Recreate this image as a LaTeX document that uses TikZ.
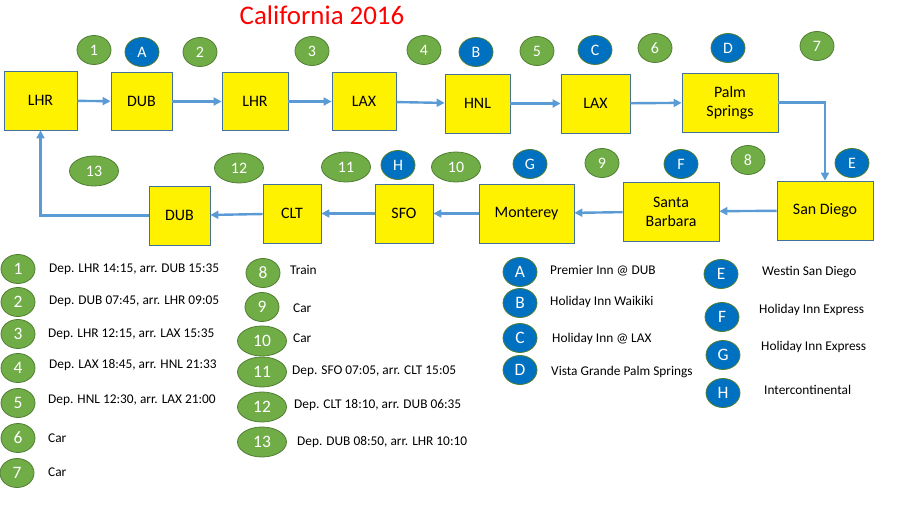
\documentclass[tikz,border=0pt]{standalone}
\usepackage{fontspec}
\setmainfont{Carlito}
\usetikzlibrary{shapes.geometric,arrows.meta}
\definecolor{grnfill}{HTML}{70AD47}
\definecolor{grnline}{HTML}{507E32}
\definecolor{blufill}{HTML}{0070C0}
\definecolor{boxline}{HTML}{41719C}
\definecolor{lnkblue}{HTML}{5B9BD5}
\begin{document}
\begin{tikzpicture}[x=1bp,y=-1bp,
  box/.style={draw=boxline,line width=0.8bp,fill=yellow,inner sep=0pt,minimum height=58bp,align=center,font=\fontsize{16}{19}\selectfont},
  grn/.style={ellipse,draw=grnline,fill=grnfill,line width=0.8bp,text=white,inner sep=0pt,minimum width=34bp,minimum height=29bp,font=\fontsize{16}{18}\selectfont},
  blu/.style={grn,fill=blufill},
  wide/.style={minimum width=49bp,minimum height=30bp},
  big/.style={font=\fontsize{17.5}{20}\selectfont},
  lbl/.style={anchor=west,inner sep=0pt,font=\fontsize{13.4}{15}\selectfont},
  lnk/.style={draw=lnkblue,line width=2.4bp,-{Triangle[length=8bp,width=8bp]}}]
\path[use as bounding box] (0,0) rectangle (901,517);
\node[text=red,font=\fontsize{27}{32}\selectfont] (title) at (322,15) {California 2016};
% route, top row
\node[box,minimum width=73bp,minimum height=59bp] (lhrA) at (40.5,100.5) {LHR};
\node[box,minimum width=61bp] (dubA) at (141.5,101.5) {DUB};
\node[box,minimum width=66bp] (lhrB) at (255,101.5) {LHR};
\node[box,minimum width=64bp] (laxA) at (364,101.5) {LAX};
\node[box,minimum width=65bp,minimum height=59bp] (hnl) at (477.5,103.5) {HNL};
\node[box,minimum width=69bp,minimum height=59bp] (laxB) at (595.5,103.5) {LAX};
\node[box,minimum width=96bp,minimum height=59bp] (psp) at (730,102.5) {Palm\\Springs};
% route, bottom row
\node[box,minimum width=96bp,minimum height=59bp] (san) at (825,210.5) {San Diego};
\node[box,minimum width=96bp,minimum height=59bp] (sba) at (671,211.5) {Santa\\Barbara};
\node[box,minimum width=95bp,minimum height=59bp] (mry) at (526.5,213.5) {Monterey};
\node[box,minimum width=58bp,minimum height=59bp] (sfo) at (404,213.5) {SFO};
\node[box,minimum width=58bp,minimum height=59bp] (clt) at (292,213.5) {CLT};
\node[box,minimum width=61bp,minimum height=59bp] (dubB) at (179.5,215.5) {DUB};
% legs
\draw[lnk] (lhrA) -- (dubA);
\draw[lnk] (dubA) -- (lhrB);
\draw[lnk] (lhrB) -- (laxA);
\draw[lnk] (laxA) -- (hnl);
\draw[lnk] (hnl) -- (laxB);
\draw[lnk] (laxB) -- (psp);
\draw[lnk] (psp.east) -| (san.north);
\draw[lnk] (san) -- (sba);
\draw[lnk] (sba) -- (mry);
\draw[lnk] (mry) -- (sfo);
\draw[lnk] (sfo) -- (clt);
\draw[lnk] (clt) -- (dubB);
\draw[lnk] (dubB.west) -| (lhrA.south);
% markers on the route
\node[grn] (m1) at (94,50) {1};
\node[blu] (mA) at (142,52) {A};
\node[grn] (m2) at (200,52) {2};
\node[grn] (m3) at (312,51) {3};
\node[grn] (m4) at (424,50) {4};
\node[blu] (mB) at (476,52) {B};
\node[grn] (m5) at (537,51) {5};
\node[blu] (mC) at (595,50) {C};
\node[grn] (m6) at (655,48) {6};
\node[blu] (mD) at (728,48) {D};
\node[grn] (m7) at (817,46) {7};
\node[blu] (mE) at (852,163) {E};
\node[grn] (m8) at (748,160) {8};
\node[blu] (mF) at (681,164) {F};
\node[grn] (m9) at (602,163) {9};
\node[blu] (mG) at (530,164) {G};
\node[grn,wide] (m10) at (456,167) {10};
\node[blu] (mH) at (398,165) {H};
\node[grn,wide] (m11) at (346,167) {11};
\node[grn,wide] (m12) at (239,168) {12};
\node[grn,wide] (m13) at (94,171) {13};
% key, legs
\node[grn,big] (k1) at (18,269) {1};\node[lbl] (t1) at (49,269) {Dep. LHR 14:15, arr. DUB 15:35};
\node[grn,big] (k2) at (18,302) {2};\node[lbl] (t2) at (49,301) {Dep. DUB 07:45, arr. LHR 09:05};
\node[grn,big] (k3) at (18,334) {3};\node[lbl] (t3) at (48,334) {Dep. LHR 12:15, arr. LAX 15:35};
\node[grn,big] (k4) at (18,368) {4};\node[lbl] (t4) at (49,365) {Dep. LAX 18:45, arr. HNL 21:33};
\node[grn,big] (k5) at (18,403) {5};\node[lbl] (t5) at (48,400) {Dep. HNL 12:30, arr. LAX 21:00};
\node[grn,big] (k6) at (18,438) {6};\node[lbl] (t6) at (48,438) {Car};
\node[grn,big] (k7) at (17,473) {7};\node[lbl] (t7) at (48,472) {Car};
\node[grn,big] (k8) at (263,273) {8};\node[lbl] (t8) at (290,270) {Train};
\node[grn,big] (k9) at (262,307) {9};\node[lbl] (t9) at (293,308) {Car};
\node[grn,big,wide] (k10) at (262,341) {10};\node[lbl] (t10) at (293,338) {Car};
\node[grn,big,wide] (k11) at (262,372) {11};\node[lbl] (t11) at (292,371) {Dep. SFO 07:05, arr. CLT 15:05};
\node[grn,big,wide] (k12) at (262,407) {12};\node[lbl] (t12) at (294,405) {Dep. CLT 18:10, arr. DUB 06:35};
\node[grn,big,wide] (k13) at (262,442) {13};\node[lbl] (t13) at (297,442) {Dep. DUB 08:50, arr. LHR 10:10};
% key, hotels
\node[blu,big] (kA) at (520,272) {A};\node[lbl] (tA) at (550,271) {Premier Inn @ DUB};
\node[blu,big] (kB) at (520,303) {B};\node[lbl] (tB) at (550,302) {Holiday Inn Waikiki};
\node[blu,big] (kC) at (520,338) {C};\node[lbl] (tC) at (552,339) {Holiday Inn @ LAX};
\node[blu,big] (kD) at (520,370) {D};\node[lbl] (tD) at (551,372) {Vista Grande Palm Springs};
\node[blu,big] (kE) at (721,274) {E};\node[lbl] (tE) at (762,272) {Westin San Diego};
\node[blu,big] (kF) at (722,317) {F};\node[lbl] (tF) at (759,310) {Holiday Inn Express};
\node[blu,big] (kG) at (723,355) {G};\node[lbl] (tG) at (761,347) {Holiday Inn Express};
\node[blu,big] (kH) at (723,393) {H};\node[lbl] (tH) at (764,390) {Intercontinental};
\end{tikzpicture}
\end{document}
